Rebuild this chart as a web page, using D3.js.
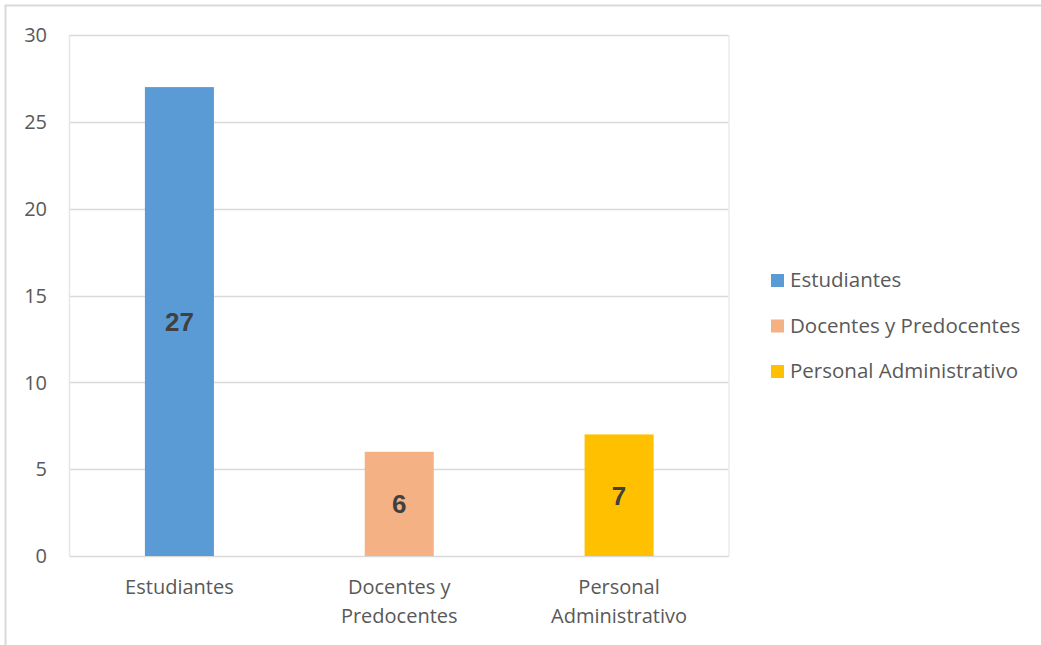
<!DOCTYPE html>
<html>
<head>
<meta charset="utf-8">
<script src="https://cdn.jsdelivr.net/npm/d3@7"></script>
<style>
  body { margin: 0; background: #fff; }
  text { font-family: "Open Sans", "Noto Sans", sans-serif; }
</style>
</head>
<body>
<div id="chart"></div>
<script>
// data
var categories = ["Estudiantes", "Docentes y Predocentes", "Personal Administrativo"];
var axisLabels = [["Estudiantes"], ["Docentes y", "Predocentes"], ["Personal", "Administrativo"]];
var values = [27, 6, 7];
var colors = ["#5b9bd5", "#f4b183", "#ffc000"];
var yTicks = [0, 5, 10, 15, 20, 25, 30];

var width = 1041, height = 645;
var margin = { top: 35, right: 312, bottom: 89, left: 69.5 };

var svg = d3.select("#chart").append("svg")
    .attr("width", width)
    .attr("height", height);

// outer chart border
svg.append("rect")
    .attr("x", 5.5).attr("y", 5.5)
    .attr("width", width + 10).attr("height", height + 10)
    .style("fill", "#fff")
    .style("stroke", "#d9d9d9")
    .style("stroke-width", 2);

var x = d3.scaleBand()
    .domain(categories)
    .range([margin.left, width - margin.right])
    .paddingInner(0.686)
    .paddingOuter(0.343);

var y = d3.scaleLinear()
    .domain([0, 30])
    .range([height - margin.bottom, margin.top]);

// gridlines
svg.append("g")
    .selectAll("line")
    .data(yTicks)
    .enter().append("line")
    .attr("x1", margin.left)
    .attr("x2", width - margin.right)
    .attr("y1", function(d) { return Math.round(y(d)) + 0.5; })
    .attr("y2", function(d) { return Math.round(y(d)) + 0.5; })
    .style("stroke", "#d9d9d9")
    .style("stroke-width", 1.5);

// plot frame sides
svg.append("line")
    .attr("x1", margin.left).attr("x2", margin.left)
    .attr("y1", y(30)).attr("y2", y(0))
    .style("stroke", "#e6e6e6").style("stroke-width", 1.5);
svg.append("line")
    .attr("x1", width - margin.right).attr("x2", width - margin.right)
    .attr("y1", y(30)).attr("y2", y(0))
    .style("stroke", "#ebebeb").style("stroke-width", 1.5);

// y axis labels
svg.append("g")
    .selectAll("text")
    .data(yTicks)
    .enter().append("text")
    .attr("x", 47)
    .attr("y", function(d) { return y(d); })
    .attr("dy", "0.36em")
    .style("text-anchor", "end")
    .style("font-size", "20px")
    .style("fill", "#595959")
    .text(function(d) { return d; });

// bars
svg.append("g")
    .selectAll("rect")
    .data(values)
    .enter().append("rect")
    .attr("x", function(d, i) { return x(categories[i]); })
    .attr("y", function(d) { return y(d); })
    .attr("width", x.bandwidth())
    .attr("height", function(d) { return y(0) - y(d); })
    .style("fill", function(d, i) { return colors[i]; });

// value labels in middle of bars
svg.append("g")
    .selectAll("text")
    .data(values)
    .enter().append("text")
    .attr("x", function(d, i) { return x(categories[i]) + x.bandwidth() / 2; })
    .attr("y", function(d) { return (y(d) + y(0)) / 2; })
    .attr("dy", "0.36em")
    .style("text-anchor", "middle")
    .style("font-family", "'Liberation Sans', Arial, sans-serif")
    .style("font-weight", "bold")
    .style("font-size", "26px")
    .style("fill", "#404040")
    .text(function(d) { return d; });

// category labels
var cat = svg.append("g")
    .selectAll("text")
    .data(categories)
    .enter().append("text")
    .attr("x", function(d) { return x(d) + x.bandwidth() / 2; })
    .attr("y", 594)
    .style("text-anchor", "middle")
    .style("font-size", "20px")
    .style("fill", "#595959");

cat.selectAll("tspan")
    .data(function(d, i) { return axisLabels[i]; })
    .enter().append("tspan")
    .attr("x", function() { return d3.select(this.parentNode).attr("x"); })
    .attr("dy", function(d, i) { return i === 0 ? 0 : 29; })
    .text(function(d) { return d; });

// legend
var legend = svg.append("g")
    .selectAll("g")
    .data(categories)
    .enter().append("g")
    .attr("transform", function(d, i) { return "translate(771," + (280 + i * 45.5) + ")"; });

legend.append("rect")
    .attr("x", 0).attr("y", -6)
    .attr("width", 13).attr("height", 13)
    .style("fill", function(d, i) { return colors[i]; });

legend.append("text")
    .attr("x", 19)
    .attr("dy", "0.36em")
    .style("font-size", "20.5px")
    .style("fill", "#595959")
    .text(function(d) { return d; });
</script>
</body>
</html>
